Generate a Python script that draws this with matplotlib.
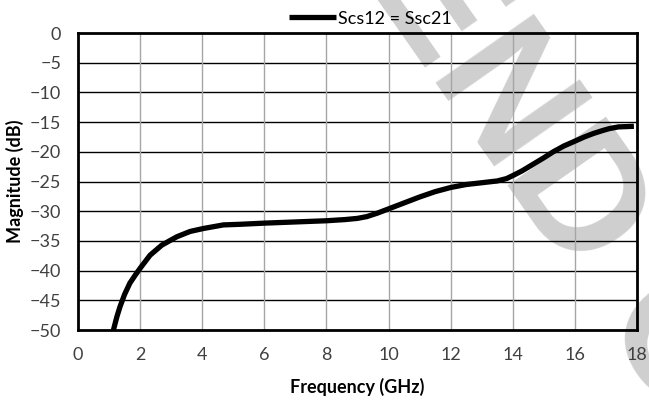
import matplotlib.pyplot as plt

# measured S-parameter magnitude vs frequency
freq_ghz = [1.14, 1.25, 1.35, 1.50, 1.67, 1.85, 2.00, 2.32, 2.70, 3.18, 3.61, 4.04,
            4.68, 5.20, 6.00, 7.00, 8.00, 8.60, 9.00, 9.30, 9.65, 10.0, 10.5, 11.0, 11.5,
            12.0, 12.5, 13.0, 13.5, 13.8, 14.0, 14.3, 14.65, 15.0, 15.3, 15.65, 16.0,
            16.3, 16.6, 16.9, 17.1, 17.4, 17.9]
mag_db = [-50.0, -47.8, -46.1, -44.0, -42.1, -40.7, -39.6, -37.4, -35.7, -34.3, -33.4, -32.9,
          -32.3, -32.2, -32.0, -31.8, -31.6, -31.4, -31.2, -30.9, -30.3, -29.6, -28.6, -27.6, -26.7,
          -26.0, -25.5, -25.2, -24.9, -24.5, -24.0, -23.2, -22.1, -21.0, -20.0, -19.0, -18.2,
          -17.5, -16.9, -16.4, -16.1, -15.8, -15.7]

x_ticks = [0, 2, 4, 6, 8, 10, 12, 14, 16, 18]
y_ticks = [0, -5, -10, -15, -20, -25, -30, -35, -40, -45, -50]


def main():
    plt.rcParams['font.family'] = ['Lato', 'DejaVu Sans']

    fig = plt.figure(figsize=(6.49, 4.03), dpi=100)
    fig.patch.set_facecolor('white')

    # light diagonal watermark behind the plot
    fig.text(0.717, 1.236, 'END OF LIFE', rotation=-55, color='#cfcfcf',
             fontsize=125, fontweight='bold', family='Liberation Sans',
             ha='left', va='top', rotation_mode='anchor', zorder=-1)

    ax = fig.add_axes([0.1202, 0.181, 0.8613, 0.737])
    ax.set_facecolor('none')

    ax.plot(freq_ghz, mag_db, color='black', linewidth=3.8,
            solid_capstyle='butt', solid_joinstyle='round',
            label='Scs12 = Ssc21', zorder=3)

    ax.set_xlim(0, 18)
    ax.set_ylim(-50, 0)
    ax.set_xticks(x_ticks)
    ax.set_yticks(y_ticks)
    ax.tick_params(length=0, labelsize=13, colors='#404040')
    ax.tick_params(axis='x', pad=12)
    ax.tick_params(axis='y', pad=12)

    for y in y_ticks[1:-1]:
        ax.axhline(y, color='black', linewidth=1.0, zorder=1)
    for x in x_ticks[1:-1]:
        ax.axvline(x, color='#a6a6a6', linewidth=1.0, zorder=1)

    for side in ax.spines.values():
        side.set_linewidth(2.0)
        side.set_color('black')

    ax.set_xlabel('Frequency (GHz)', fontsize=13, fontweight='bold', labelpad=11)
    ax.set_ylabel('Magnitude (dB)', fontsize=13, fontweight='bold', labelpad=4)

    ax.legend(loc='lower center', bbox_to_anchor=(0.523, 0.985), frameon=False,
              fontsize=13, handlelength=2.6, handletextpad=0.1, borderpad=0.1)

    fig.savefig('out.png', dpi=100)


if __name__ == '__main__':
    main()
